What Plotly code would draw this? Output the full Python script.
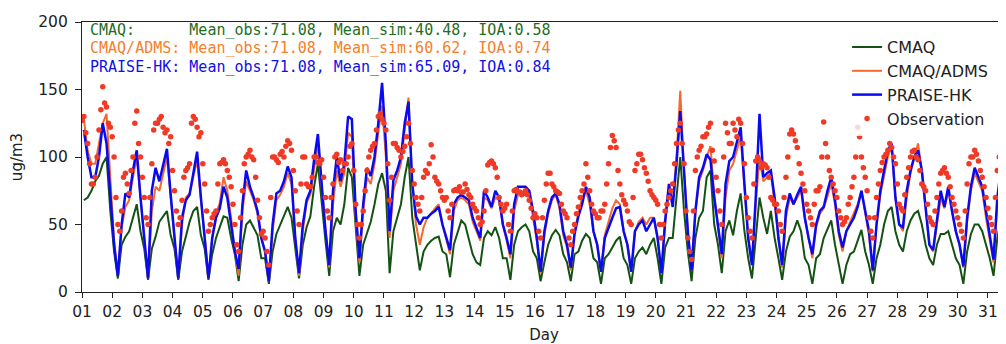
import numpy as np
import plotly.graph_objects as go

# 3-hourly samples (hours 1.5, 4.5, ..., 22.5) for days 01..31
days = list(range(1, 32))
slot_hours = [1.5, 4.5, 7.5, 10.5, 13.5, 16.5, 19.5, 22.5]
obs_extra_hours = [0, 3, 6, 9, 12, 15, 18, 21]
tick_labels = [f"{d:02d}" for d in days]

cmaq = [
    68, 70, 75, 82, 86, 95, 100, 60,
    30, 10, 35, 41, 45, 55, 65, 45,
    32, 9, 32, 41, 52, 56, 60, 42,
    32, 9, 30, 41, 52, 60, 63, 42,
    32, 9, 28, 40, 48, 56, 55, 40,
    28, 8, 35, 50, 53, 48, 42, 25,
    25, 6, 30, 43, 50, 56, 63, 55,
    32, 10, 35, 48, 56, 78, 95, 65,
    38, 12, 45, 55, 50, 65, 92, 85,
    45, 12, 35, 43, 52, 65, 80, 88,
    75, 14, 45, 55, 65, 85, 100, 55,
    35, 16, 30, 35, 38, 40, 41, 30,
    28, 11, 35, 45, 53, 50, 40, 28,
    22, 20, 40, 45, 42, 48, 40, 25,
    25, 9, 35, 45, 48, 50, 45, 30,
    25, 8, 22, 35, 42, 46, 42, 28,
    22, 8, 28, 30, 38, 43, 40, 25,
    22, 6, 25, 28, 33, 38, 41, 25,
    20, 6, 25, 30, 33, 28, 35, 40,
    25, 6, 33, 40, 40, 70, 100, 60,
    30, 8, 40, 55, 60, 85, 90, 50,
    35, 14, 45, 53, 42, 60, 73, 45,
    25, 10, 40, 70, 55, 43, 60, 40,
    25, 9, 30, 41, 45, 53, 45, 25,
    20, 6, 25, 28, 40, 46, 53, 35,
    20, 6, 20, 28, 30, 38, 46, 30,
    20, 6, 25, 35, 50, 60, 63, 45,
    35, 30, 45, 53, 58, 60, 50, 35,
    25, 20, 35, 43, 43, 45, 35, 25,
    20, 6, 30, 43, 50, 50, 45, 35,
    25, 12, 40, 55, 63, 60, 50, 40,
]

cmaq_adms = [
    128, 105, 95, 95, 110, 125, 132, 85,
    38, 12, 48, 63, 68, 85, 100, 70,
    40, 10, 60, 78, 75, 88, 100, 70,
    42, 10, 50, 70, 73, 85, 98, 68,
    42, 10, 40, 58, 66, 85, 75, 55,
    30, 12, 60, 82, 75, 68, 58, 40,
    30, 8, 45, 68, 72, 78, 88, 80,
    40, 12, 45, 66, 72, 92, 110, 78,
    45, 18, 65, 90, 78, 88, 118, 115,
    55, 22, 60, 85, 80, 95, 118, 138,
    100, 40, 75, 85, 95, 120, 144, 80,
    50, 35, 48, 55, 58, 62, 65, 50,
    40, 28, 60, 68, 70, 68, 65, 52,
    45, 38, 70, 68, 62, 70, 68, 50,
    38, 25, 60, 72, 74, 75, 72, 55,
    38, 14, 42, 58, 68, 72, 62, 42,
    33, 16, 45, 58, 70, 75, 65, 45,
    35, 15, 42, 52, 62, 68, 65, 45,
    35, 15, 45, 52, 55, 50, 55, 55,
    40, 14, 50, 75, 65, 100, 149, 90,
    45, 16, 58, 82, 90, 100, 108, 72,
    48, 25, 70, 90, 95, 105, 115, 78,
    40, 20, 65, 100, 82, 85, 88, 65,
    40, 18, 55, 70, 65, 70, 75, 55,
    40, 25, 48, 58, 62, 72, 80, 65,
    42, 30, 45, 52, 58, 65, 75, 60,
    42, 15, 50, 72, 85, 100, 108, 70,
    50, 45, 70, 88, 100, 110, 90, 60,
    35, 30, 52, 70, 62, 75, 60, 45,
    35, 18, 52, 75, 88, 82, 75, 55,
    40, 22, 65, 88, 92, 88, 78, 58,
]

praise_hk = [
    120, 100, 85, 85, 100, 125, 110, 70,
    35, 12, 50, 73, 70, 90, 105, 70,
    40, 10, 75, 92, 82, 95, 106, 72,
    42, 10, 55, 68, 72, 88, 104, 70,
    40, 10, 40, 55, 62, 78, 70, 50,
    30, 17, 65, 90, 78, 70, 60, 40,
    30, 8, 50, 73, 75, 82, 93, 85,
    40, 14, 50, 68, 75, 98, 117, 80,
    45, 20, 75, 100, 82, 95, 130, 128,
    60, 25, 65, 92, 86, 100, 125, 155,
    110, 45, 83, 90, 100, 125, 141, 80,
    56, 50, 55, 55, 58, 60, 63, 50,
    40, 31, 65, 70, 72, 70, 68, 55,
    48, 40, 75, 70, 63, 75, 70, 50,
    40, 28, 65, 78, 78, 78, 75, 60,
    40, 15, 45, 60, 70, 73, 65, 45,
    35, 18, 43, 56, 65, 78, 70, 45,
    35, 15, 40, 48, 55, 62, 63, 45,
    35, 15, 45, 50, 53, 45, 50, 55,
    40, 14, 53, 80, 63, 95, 134, 85,
    45, 16, 60, 85, 92, 102, 98, 70,
    50, 28, 80, 97, 100, 112, 122, 80,
    40, 20, 70, 132, 85, 88, 90, 70,
    40, 20, 60, 73, 65, 72, 78, 55,
    40, 28, 50, 60, 63, 75, 85, 68,
    45, 33, 45, 50, 55, 63, 75, 60,
    45, 16, 50, 75, 90, 105, 110, 70,
    50, 48, 75, 90, 100, 105, 90, 60,
    35, 31, 55, 75, 63, 78, 60, 45,
    35, 19, 55, 78, 92, 85, 78, 60,
    40, 24, 70, 92, 97, 90, 80, 60,
]

# observations at hours 1.5, 4.5, ..., 22.5
observation = [
    130, 110, 80, 85, 120, 152, 137, 122,
    100, 50, 60, 88, 73, 100, 134, 100,
    70, 50, 95, 125, 128, 122, 120, 115,
    75, 50, 68, 90, 95, 130, 122, 118,
    80, 45, 55, 60, 95, 98, 90, 78,
    50, 30, 75, 100, 105, 98, 68, 43,
    40, 20, 100, 98, 102, 100, 112, 105,
    75, 50, 100, 80, 78, 100, 96, 98,
    70, 55, 80, 102, 98, 95, 100, 110,
    65, 40, 60, 90, 105, 110, 130, 128,
    120, 68, 110, 107, 100, 108, 125, 90,
    70, 60, 85, 88, 109, 85, 80, 70,
    70, 55, 75, 75, 74, 80, 72, 65,
    60, 50, 60, 94, 97, 92, 70, 60,
    65, 45, 75, 74, 72, 75, 68, 55,
    55, 40, 68, 88, 80, 75, 73, 60,
    55, 35, 50, 63, 75, 95, 75, 60,
    55, 60, 65, 95, 116, 107, 80, 68,
    60, 50, 90, 102, 98, 88, 75, 70,
    65, 40, 60, 70, 80, 110, 125, 95,
    40, 24, 90, 105, 115, 117, 125, 97,
    75, 50, 125, 110, 125, 115, 125, 95,
    55, 40, 97, 97, 95, 92, 70, 65,
    60, 45, 85, 117, 117, 107, 88, 75,
    60, 50, 75, 78, 126, 100, 85, 75,
    60, 50, 55, 70, 85, 122, 100, 85,
    55, 40, 70, 90, 100, 105, 107, 95,
    65, 60, 85, 100, 105, 98, 80, 75,
    55, 50, 70, 88, 92, 85, 70, 60,
    50, 40, 80, 100, 105, 97, 85, 70,
    55, 45, 90, 107, 100, 95, 85, 70,
]

# observations at hours 0, 3, ..., 21
observation_extra = [
    127, 118, 95, 80, 100, 135, 140, 125,
    115, 70, 45, 85, 80, 90, 125, 110,
    85, 55, 70, 120, 125, 130, 118, 110,
    90, 60, 55, 85, 92, 125, 128, 115,
    95, 60, 50, 58, 80, 96, 95, 85,
    65, 35, 55, 95, 102, 100, 85, 55,
    45, 30, 70, 100, 96, 104, 108, 110,
    90, 60, 80, 100, 78, 85, 100, 95,
    85, 60, 70, 100, 96, 90, 95, 108,
    90, 50, 50, 75, 100, 108, 120, 132,
    125, 95, 85, 110, 105, 104, 115, 110,
    80, 65, 70, 90, 95, 100, 82, 75,
    68, 60, 65, 76, 78, 74, 76, 70,
    62, 55, 52, 75, 96, 95, 85, 65,
    62, 50, 60, 76, 74, 73, 72, 62,
    58, 45, 55, 80, 88, 78, 74, 65,
    58, 40, 45, 58, 70, 80, 85, 65,
    58, 55, 60, 80, 107, 112, 90, 72,
    65, 52, 70, 95, 102, 92, 82, 72,
    68, 50, 50, 65, 75, 95, 120, 110,
    60, 30, 60, 100, 108, 115, 122, 105,
    85, 60, 100, 118, 110, 120, 128, 110,
    70, 45, 80, 100, 92, 94, 85, 68,
    65, 50, 70, 100, 120, 112, 95, 80,
    65, 55, 65, 75, 100, 110, 90, 80,
    70, 55, 52, 65, 78, 100, 115, 92,
    75, 45, 55, 80, 96, 102, 110, 100,
    80, 62, 72, 92, 104, 100, 90, 78,
    65, 52, 60, 80, 90, 88, 78, 65,
    55, 45, 60, 95, 100, 102, 90, 78,
    62, 50, 70, 100, 107, 98, 90, 78,
]

stats_lines = [
    ("CMAQ:      Mean_obs:71.08, Mean_sim:40.48, IOA:0.58", "#1f6e1f"),
    ("CMAQ/ADMS: Mean_obs:71.08, Mean_sim:60.62, IOA:0.74", "#f5802a"),
    ("PRAISE-HK: Mean_obs:71.08, Mean_sim:65.09, IOA:0.84", "#1010e8"),
]

# time axis in days
t = np.array([d + h / 24.0 for d in days for h in slot_hours])
t_extra = np.array([d + h / 24.0 for d in days for h in obs_extra_hours])
t_obs = np.concatenate([t, t_extra])
y_obs = list(observation) + list(observation_extra)

fig = go.Figure()
fig.add_trace(go.Scatter(x=t, y=cmaq, mode="lines", name="CMAQ",
                         line=dict(color="#145214", width=2)))
fig.add_trace(go.Scatter(x=t, y=cmaq_adms, mode="lines", name="CMAQ/ADMS",
                         line=dict(color="#f26a2e", width=2)))
fig.add_trace(go.Scatter(x=t, y=praise_hk, mode="lines", name="PRAISE-HK",
                         line=dict(color="#0a0af0", width=2.5)))
fig.add_trace(go.Scatter(x=t_obs, y=y_obs, mode="markers", name="Observation",
                         marker=dict(color="#f03a26", size=5.5)))

ys = [0.970, 0.903, 0.833]
for (txt, col), yy in zip(stats_lines, ys):
    fig.add_annotation(text=txt, xref="paper", yref="paper", x=0.0065, y=yy,
                       xanchor="left", yanchor="middle", showarrow=False,
                       font=dict(family="DejaVu Sans Mono", size=15, color=col))

# the page body has an 8px margin, so the figure is 8px smaller than the window
fig.update_layout(
    width=998, height=336,
    margin=dict(l=74, r=0, t=14, b=52, autoexpand=False),
    paper_bgcolor="white", plot_bgcolor="white",
    font=dict(family="DejaVu Sans", color="#222222"),
    showlegend=True,
    legend=dict(x=0.828, y=0.97, xanchor="left", yanchor="top",
                bgcolor="rgba(255,255,255,0.8)", borderwidth=0,
                font=dict(family="DejaVu Sans", size=16, color="#222222"),
                tracegroupgap=0, itemwidth=30),
)
fig.update_xaxes(range=[1, 31.6], tickmode="array", tickvals=days, ticktext=tick_labels,
                 ticks="outside", ticklen=5, tickcolor="#222222", tickwidth=1.2,
                 showline=True, linecolor="#222222", linewidth=1.3, mirror=True,
                 showgrid=False, zeroline=False, automargin=False,
                 tickfont=dict(family="DejaVu Sans", size=15.5, color="#222222"),
                 title=dict(text="Day", font=dict(family="DejaVu Sans", size=15, color="#222222"), standoff=9))
fig.update_yaxes(range=[0, 200], tickvals=[0, 50, 100, 150, 200],
                 ticks="outside", ticklen=6, tickcolor="#222222", tickwidth=1.2,
                 showline=True, linecolor="#222222", linewidth=1.3,
                 showgrid=False, zeroline=False, automargin=False,
                 ticklabelstandoff=4,
                 tickfont=dict(family="DejaVu Sans", size=15.5, color="#222222"),
                 title=dict(text="ug/m3", font=dict(family="DejaVu Sans", size=15, color="#222222"), standoff=16))

fig.write_html("out.html")
